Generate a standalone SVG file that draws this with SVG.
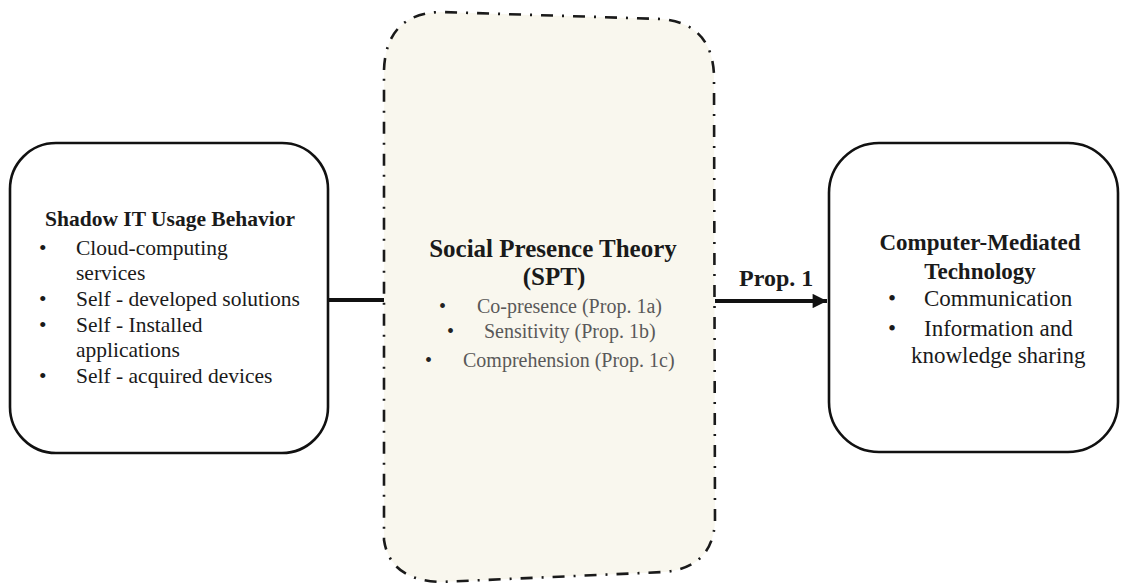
<svg xmlns="http://www.w3.org/2000/svg" width="1121" height="584" viewBox="0 0 1121 584">
<style>
.box{fill:#ffffff;stroke:#111;stroke-width:2.6}
.mid{fill:#f9f7ee;stroke:#1a1a1a;stroke-width:2.6;stroke-dasharray:12 9 2 9}
.t{font-family:"Liberation Serif","Times New Roman",serif;fill:#1a1a1a}
.b{font-weight:bold}
.l{font-size:21.5px}
.r{font-size:23px}
.g{font-size:20px;fill:#595959}
.gb{font-size:20px;fill:#222}
.conn{stroke:#111;stroke-width:4;fill:none}
</style>
<defs>
<marker id="ah" viewBox="0 0 10 10" refX="10" refY="5" markerWidth="4" markerHeight="3.6" orient="auto" markerUnits="strokeWidth">
<path d="M0,0 L10,5 L0,10 Z" fill="#111"/>
</marker>
</defs>
<g id="connectors">
<line class="conn" x1="328" y1="300" x2="385" y2="300"/>
<line class="conn" x1="715" y1="301" x2="827" y2="301" marker-end="url(#ah)"/>
<text class="t b" x="739" y="286" font-size="24">Prop. 1</text>
</g>
<g id="node-shadow-it">
<rect class="box" x="10" y="143" width="318" height="310" rx="46" ry="46"/>
<text class="t l b" x="170" y="226" text-anchor="middle">Shadow IT Usage Behavior</text>
<text class="t l" x="39" y="255">•</text>
<text class="t l" x="76" y="255">Cloud-computing</text>
<text class="t l" x="76" y="280">services</text>
<text class="t l" x="39" y="306">•</text>
<text class="t l" x="76" y="306">Self - developed solutions</text>
<text class="t l" x="39" y="332">•</text>
<text class="t l" x="76" y="332">Self - Installed</text>
<text class="t l" x="76" y="357">applications</text>
<text class="t l" x="39" y="383">•</text>
<text class="t l" x="76" y="383">Self - acquired devices</text>
</g>
<g id="node-spt">
<path class="mid" d="M384,70 Q386,14 440,12 L662,19 Q712,24 714,75 L715,522 Q712,568 664,572 L440,582 Q390,580 384,540 Z"/>
<text class="t b" x="553" y="257" font-size="25" text-anchor="middle">Social Presence Theory</text>
<text class="t b" x="554" y="285" font-size="25" text-anchor="middle">(SPT)</text>
<text class="t gb" x="439" y="313">•</text>
<text class="t g" x="477" y="313">Co-presence (Prop. 1a)</text>
<text class="t gb" x="447" y="338">•</text>
<text class="t g" x="484" y="338">Sensitivity (Prop. 1b)</text>
<text class="t gb" x="425" y="367">•</text>
<text class="t g" x="463" y="367">Comprehension (Prop. 1c)</text>
</g>
<g id="node-cmt">
<rect class="box" x="829" y="143" width="289" height="309" rx="50" ry="50"/>
<text class="t r b" x="980" y="250" text-anchor="middle">Computer-Mediated</text>
<text class="t r b" x="980" y="279" text-anchor="middle">Technology</text>
<text class="t r" x="888" y="306">•</text>
<text class="t r" x="924" y="306">Communication</text>
<text class="t r" x="888" y="336">•</text>
<text class="t r" x="924" y="336">Information and</text>
<text class="t r" x="911" y="363">knowledge sharing</text>
</g>
</svg>
